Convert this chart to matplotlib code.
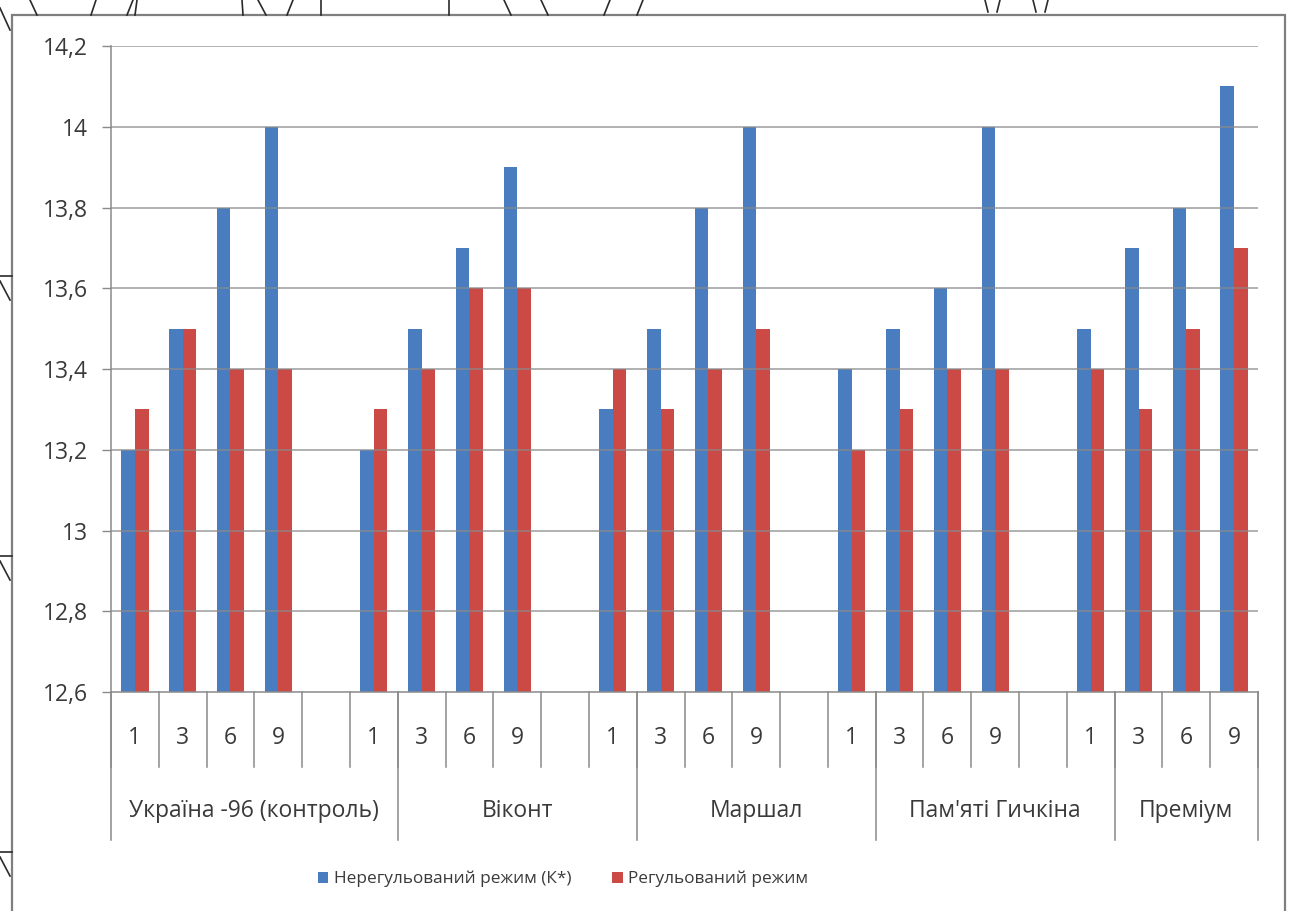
import numpy as np
import matplotlib
matplotlib.use("Agg")
import matplotlib.pyplot as plt
from matplotlib.patches import Rectangle
from matplotlib.lines import Line2D
from matplotlib.transforms import blended_transform_factory

plt.rcParams['font.family'] = ['Open Sans', 'DejaVu Sans']

# Inner axis labels (months), blank slots separate the varieties
months = ["1", "3", "6", "9", "", "1",
          "3", "6", "9", "", "1",
          "3", "6", "9", "", "1",
          "3", "6", "9", "", "1",
          "3", "6", "9"]
group_names = ["Україна -96 (контроль)", "Віконт", "Маршал", "Пам'яті Гичкіна", "Преміум"]
group_sizes = [6, 5, 5, 5, 3]

nan = np.nan
unregulated = [13.2, 13.5, 13.8, 14.0, nan, 13.2,
               13.5, 13.7, 13.9, nan, 13.3,
               13.5, 13.8, 14.0, nan, 13.4,
               13.5, 13.6, 14.0, nan, 13.5,
               13.7, 13.8, 14.1]
regulated = [13.3, 13.5, 13.4, 13.4, nan, 13.3,
             13.4, 13.6, 13.6, nan, 13.4,
             13.3, 13.4, 13.5, nan, 13.2,
             13.3, 13.4, 13.4, nan, 13.4,
             13.3, 13.5, 13.7]
series_names = ["Нерегульований режим (К*)", "Регульований режим"]
colors = ["#4a7cc0", "#cc4a45"]

text_color = "#3a3a3a"
line_color = "#8a8a8a"
axis_fs = 16.5
legend_fs = 12.4

W, H = 1289, 911
fig = plt.figure(figsize=(W / 100, H / 100), dpi=100)
fig.patch.set_facecolor("white")


def px(xp, yp):
    return xp / W, 1 - yp / H


# outer chart frame
fig.add_artist(Rectangle((12 / W, -0.05), (1285 - 12) / W, 1 - 15 / H + 0.05,
                         transform=fig.transFigure, fill=False,
                         edgecolor="#7f7f7f", linewidth=1.6))

# pen strokes of the surrounding page, cut at the frame edges
strokes = [((30, 0), (37, 15)), ((96, 0), (91, 15)), ((133, 0), (127, 15)),
           ((137, 0), (135, 15)), ((242, 0), (243, 15)), ((258, 0), (266, 15)),
           ((293, 0), (287, 15)), ((321, 0), (321, 15)), ((449, 0), (449, 15)),
           ((504, 0), (511, 15)), ((541, 0), (548, 15)), ((610, 0), (604, 15)),
           ((643, 0), (637, 15)), ((0, 8), (10, 30)),
           ((0, 276), (12, 276)), ((0, 281), (10, 300)),
           ((0, 556), (12, 556)), ((0, 561), (10, 580)),
           ((0, 852), (12, 852)), ((0, 857), (10, 876))]
for (x0, y0), (x1, y1) in strokes:
    a, b = px(x0, y0), px(x1, y1)
    fig.add_artist(Line2D([a[0], b[0]], [a[1], b[1]], transform=fig.transFigure,
                          color="#2a2a2a", linewidth=1.2))
for cx in (985, 1000, 1033, 1048):
    a, b = px(cx, 0), px(cx + (3 if cx in (985, 1033) else -3), 12)
    fig.add_artist(Line2D([a[0], b[0]], [a[1], b[1]], transform=fig.transFigure,
                          color="#2a2a2a", linewidth=1.2))

ax = fig.add_axes([111 / W, 1 - 692 / H, (1258 - 111) / W, (692 - 46) / H])

x = np.arange(len(months))
w = 0.285
ax.bar(x - w / 2, unregulated, width=w, bottom=0, color=colors[0], zorder=2,
       label=series_names[0])
ax.bar(x + w / 2, regulated, width=w, bottom=0, color=colors[1], zorder=2,
       label=series_names[1])

ax.set_xlim(-0.5, len(months) - 0.5)
ax.set_ylim(12.6, 14.2)
yticks = np.round(np.arange(12.6, 14.21, 0.2), 1)
ax.set_yticks(yticks)
ax.set_yticklabels([f"{t:g}".replace(".", ",") for t in yticks],
                   fontsize=axis_fs, color=text_color)
ax.tick_params(axis="y", length=6.5, width=1, color=line_color, pad=10)
ax.set_xticks([])

for t in yticks[1:]:
    ax.axhline(t, color=line_color, linewidth=1.1, alpha=0.85, zorder=3)

for s in ["top", "right"]:
    ax.spines[s].set_visible(False)
for s in ["left", "bottom"]:
    ax.spines[s].set_color(line_color)
    ax.spines[s].set_linewidth(1.1)

# two-level category axis
trans = blended_transform_factory(ax.transData, ax.transAxes)
inner_depth = -(767 - 692) / 646
outer_depth = -(840 - 692) / 646
for b in np.arange(len(months) + 1) - 0.5:
    ax.plot([b, b], [0, inner_depth], transform=trans, color=line_color,
            linewidth=1.1, clip_on=False)
for i, m in enumerate(months):
    ax.text(i, -(738 - 692) / 646, m, transform=trans, ha="center", va="center",
            fontsize=axis_fs, color=text_color)

edges = np.concatenate([[0], np.cumsum(group_sizes)]) - 0.5
for e in edges:
    ax.plot([e, e], [0, outer_depth], transform=trans, color=line_color,
            linewidth=1.1, clip_on=False)
for name, a, b in zip(group_names, edges[:-1], edges[1:]):
    ax.text((a + b) / 2, -(811 - 692) / 646, name, transform=trans,
            ha="center", va="center", fontsize=axis_fs, color=text_color)

leg = fig.legend(loc="center", bbox_to_anchor=(563 / W, 1 - 879 / H), ncol=2,
                 frameon=False, fontsize=legend_fs, handlelength=0.6, handleheight=0.6,
                 handletextpad=0.3, columnspacing=2.4)
for t in leg.get_texts():
    t.set_color(text_color)

fig.savefig("out.png", dpi=100)
